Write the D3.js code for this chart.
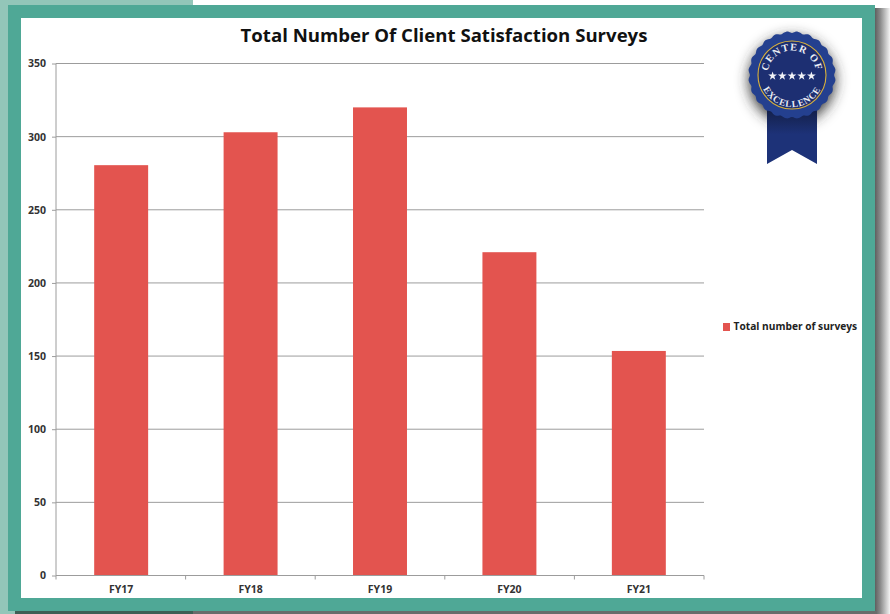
<!DOCTYPE html>
<html>
<head>
<meta charset="utf-8">
<script src="https://cdn.jsdelivr.net/npm/d3@7"></script>
<style>
  html, body { margin: 0; padding: 0; background: #fff; overflow: hidden; }
  svg { display: block; }
  text { font-family: "Open Sans", sans-serif; }
</style>
</head>
<body>
<svg id="chart" width="890" height="614"></svg>
<script>
const categories = ['FY17', 'FY18', 'FY19', 'FY20', 'FY21']
const surveys = [280.5, 303, 320, 221, 153.5]
const yTicks = [0, 50, 100, 150, 200, 250, 300, 350]
const title = 'Total Number Of Client Satisfaction Surveys'
const seriesName = 'Total number of surveys'

const teal = '#4fa896'
const red = '#e3544f'
const grid = '#9c9c9c'

const svg = d3.select('#chart')
const defs = svg.append('defs')

// page background and frame
const shade = defs.append('linearGradient').attr('id', 'shadeRight')
shade.append('stop').attr('offset', 0).attr('stop-color', '#5f5f5f')
shade.append('stop').attr('offset', 0.35).attr('stop-color', '#8a8a8a')
shade.append('stop').attr('offset', 1).attr('stop-color', '#f4f4f4')

svg.append('rect').attr('x', 0).attr('y', 0).attr('width', 193).attr('height', 614).attr('fill', '#93c6b9')
svg.append('rect').attr('x', 875).attr('y', 8).attr('width', 15).attr('height', 606).attr('fill', 'url(#shadeRight)')
svg.append('rect').attr('x', 15).attr('y', 611).attr('width', 178).attr('height', 3).attr('fill', '#3f5f55')
svg.append('rect').attr('x', 193).attr('y', 611).attr('width', 684).attr('height', 3).attr('fill', '#6a6c6b')
svg.append('rect').attr('x', 8).attr('y', 5).attr('width', 867).attr('height', 606).attr('fill', teal)
svg.append('rect').attr('x', 21).attr('y', 18).attr('width', 841).attr('height', 580).attr('fill', '#fff')

// chart
const x = d3.scaleBand().domain(categories).range([56, 704]).paddingInner(0.583).paddingOuter(0.295)
const y = d3.scaleLinear().domain([0, 350]).range([575.5, 63.5])

svg.append('g').selectAll('line').data(yTicks.slice(1)).enter().append('line')
  .attr('x1', 56).attr('x2', 704)
  .attr('y1', d => y(d)).attr('y2', d => y(d))
  .attr('stroke', grid).attr('stroke-width', 1)

svg.append('g').selectAll('rect').data(categories).enter().append('rect')
  .attr('x', d => x(d))
  .attr('width', x.bandwidth())
  .attr('y', (d, i) => y(surveys[i]))
  .attr('height', (d, i) => y(0) - y(surveys[i]))
  .attr('fill', red)

const yAxis = d3.axisLeft(y).tickValues(yTicks).tickSize(4).tickPadding(6)
const yG = svg.append('g').attr('transform', 'translate(56,0)').call(yAxis)
yG.select('.domain').attr('stroke', grid).attr('d', `M0,${y(350)}V${y(0)}`)
yG.selectAll('line').attr('stroke', grid)
yG.selectAll('text').attr('font-size', 10.5).attr('font-weight', 700).attr('fill', '#333')
  .style('font-family', '"Open Sans", sans-serif')

const xAxis = d3.axisBottom(x).tickSize(0).tickPadding(10)
const xG = svg.append('g').attr('transform', `translate(0,${y(0)})`).call(xAxis)
xG.select('.domain').attr('stroke', grid).attr('d', 'M56,0H704')
xG.selectAll('text').attr('font-size', 10.5).attr('font-weight', 700).attr('fill', '#333')
  .style('font-family', '"Open Sans", sans-serif')

// tick marks between the categories
const step = (704 - 56) / categories.length
svg.append('g').selectAll('line').data(d3.range(categories.length + 1)).enter().append('line')
  .attr('x1', i => 56 + i * step).attr('x2', i => 56 + i * step)
  .attr('y1', y(0)).attr('y2', y(0) + 4)
  .attr('stroke', grid)

svg.append('text')
  .attr('x', 444).attr('y', 42)
  .attr('text-anchor', 'middle')
  .attr('font-size', 18.6).attr('font-weight', 700).attr('fill', '#111')
  .text(title)

// legend
svg.append('rect').attr('x', 723).attr('y', 323).attr('width', 7).attr('height', 8).attr('fill', red)
svg.append('text')
  .attr('x', 733.5).attr('y', 330)
  .attr('font-size', 10.2).attr('font-weight', 700).attr('fill', '#222')
  .text(seriesName)

// badge
const cx = 792
const cy = 75
const blur = defs.append('filter').attr('id', 'badgeShadow')
  .attr('x', '-50%').attr('y', '-50%').attr('width', '200%').attr('height', '200%')
blur.append('feGaussianBlur').attr('stdDeviation', 7)

const ribbonFade = defs.append('linearGradient').attr('id', 'ribbonFade').attr('x1', 0).attr('x2', 0).attr('y1', 0).attr('y2', 1)
ribbonFade.append('stop').attr('offset', 0).attr('stop-color', '#14204a')
ribbonFade.append('stop').attr('offset', 0.45).attr('stop-color', '#1d3278')
ribbonFade.append('stop').attr('offset', 1).attr('stop-color', '#1d3278')

const badge = svg.append('g').attr('transform', `translate(${cx},${cy})`)

badge.append('circle').attr('cx', 0).attr('cy', 5).attr('r', 43)
  .attr('fill', '#333').attr('filter', 'url(#badgeShadow)')

badge.append('path')
  .attr('d', 'M-25,35H25V89L0,75L-25,89Z')
  .attr('fill', 'url(#ribbonFade)')

const scallops = 24
const edge = d3.lineRadial().curve(d3.curveBasisClosed)
  .angle(d => d * Math.PI * 2 / (scallops * 4))
  .radius(d => 41.5 + 2.5 * Math.abs(Math.sin(d * Math.PI / 4)))
badge.append('path')
  .attr('d', edge(d3.range(scallops * 4)))
  .attr('fill', '#24408f')

badge.append('circle').attr('r', 34).attr('fill', '#1d2f72')
  .attr('stroke', '#d9b13b').attr('stroke-width', 1.1)

defs.append('path').attr('id', 'arcTop').attr('d', 'M-24.5,0A24.5,24.5 0 0 1 24.5,0')
defs.append('path').attr('id', 'arcBottom').attr('d', 'M-32,0A32,32 0 0 0 32,0')

const badgeText = [['arcTop', 'CENTER OF', 10.2, 1.1], ['arcBottom', 'EXCELLENCE', 9.4, 0.7]]
badge.selectAll('text').data(badgeText).enter().append('text')
  .attr('fill', '#eceef5').attr('font-size', d => d[2]).attr('letter-spacing', d => d[3])
  .attr('font-weight', 700)
  .style('font-family', '"Liberation Serif", serif')
  .append('textPath')
  .attr('href', d => `#${d[0]}`)
  .attr('startOffset', '50%')
  .attr('text-anchor', 'middle')
  .text(d => d[1])

badge.selectAll('.star').data(d3.range(-2, 3)).enter().append('path')
  .attr('class', 'star')
  .attr('d', d3.symbol(d3.symbolStar, 24))
  .attr('transform', d => `translate(${d * 9.7},1)`)
  .attr('fill', '#f2f3f8')
</script>
</body>
</html>
